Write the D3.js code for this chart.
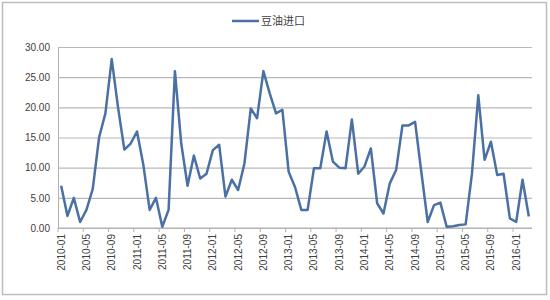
<!DOCTYPE html>
<html>
<head>
<meta charset="utf-8">
<script src="https://cdn.jsdelivr.net/npm/d3@7"></script>
<style>
  body { margin: 0; background: #fff; }
  text { font-family: "Liberation Sans", Arial, sans-serif; }
</style>
</head>
<body>
<div id="chart"></div>
<script>
// Series name
var seriesName = "豆油进口";

// Months 2010-01 .. 2016-03
var months = [];
for (var yr = 2010; yr <= 2016; yr++) {
    for (var m = 1; m <= 12; m++) {
        if (yr === 2016 && m > 3) break;
        months.push(yr + "-" + (m < 10 ? "0" + m : m));
    }
}

// Values
var values = [
    7, 2, 5, 1, 3, 6.5, 15, 19, 28, 20, 13, 14,
    16, 10.5, 3, 5, 0.2, 3, 26, 14, 7, 12, 8.2, 9,
    12.9, 13.8, 5.2, 8, 6.3, 10.7, 19.8, 18.2, 26, 22.3, 19, 19.6,
    9.3, 6.8, 3, 3, 9.9, 9.9, 16, 11, 10, 9.9, 18, 9,
    10.2, 13.2, 4.1, 2.4, 7.4, 9.6, 17, 17, 17.6, 9.2, 1, 3.8,
    4.2, 0.2, 0.3, 0.5, 0.6, 9, 22, 11.3, 14.3, 8.8, 9, 1.6,
    1, 8, 1.9
];

var yTicks = [0, 5, 10, 15, 20, 25, 30];

var svgWidth = 550;
var svgHeight = 300;

var margin = { top: 47, right: 18, bottom: 72, left: 58 };
var width = 532 - margin.left;
var height = 228 - margin.top;

var svg = d3.select("#chart")
    .append("svg")
    .attr("width", svgWidth)
    .attr("height", svgHeight);

// outer frame
svg.append("rect")
    .attr("x", 2.5).attr("y", 2.5)
    .attr("width", 544).attr("height", 292)
    .attr("fill", "#fff")
    .attr("stroke", "#bdbdbd")
    .attr("stroke-width", 1.5);

var chartGroup = svg.append("g")
    .attr("transform", `translate(${margin.left}, ${margin.top})`);

// Scales
var xScale = d3.scaleBand()
    .domain(months)
    .range([0, width])
    .padding(0);

var yScale = d3.scaleLinear()
    .domain([0, 30])
    .range([height, 0]);

// Gridlines + y labels
var leftAxis = d3.axisLeft(yScale)
    .tickValues(yTicks)
    .tickSize(-width)
    .tickPadding(8)
    .tickFormat(d3.format(".2f"));

var yAxisG = chartGroup.append("g").call(leftAxis);
yAxisG.select(".domain").attr("stroke", "#b0b0b0");
yAxisG.selectAll(".tick line").attr("stroke", "#b8b8b8").attr("stroke-width", 1.2);
yAxisG.selectAll(".tick text")
    .attr("fill", "#404040")
    .style("font-size", "10px");

// X axis line
chartGroup.append("line")
    .attr("x1", 0).attr("x2", width)
    .attr("y1", height).attr("y2", height)
    .attr("stroke", "#b0b0b0")
    .attr("stroke-width", 1.2);

// tick marks every 4 months, labels centered on category
var labelMonths = months.filter((d, i) => i % 4 === 0);

chartGroup.selectAll(".xtick")
    .data(labelMonths)
    .enter()
    .append("line")
    .attr("class", "xtick")
    .attr("x1", d => xScale(d))
    .attr("x2", d => xScale(d))
    .attr("y1", height)
    .attr("y2", height + 4)
    .attr("stroke", "#b0b0b0");

chartGroup.selectAll(".xlabel")
    .data(labelMonths)
    .enter()
    .append("text")
    .attr("class", "xlabel")
    .attr("transform", d => `translate(${xScale(d) + xScale.bandwidth() / 2 + 3.5}, ${height + 6}) rotate(-90)`)
    .attr("text-anchor", "end")
    .attr("fill", "#404040")
    .style("font-size", "10px")
    .text(d => d);

// Line
var line = d3.line()
    .x((d, i) => xScale(months[i]) + xScale.bandwidth() / 2)
    .y(d => yScale(d));

chartGroup.append("path")
    .datum(values)
    .attr("fill", "none")
    .attr("stroke", "#4a70a4")
    .attr("stroke-width", 2.5)
    .attr("stroke-linejoin", "round")
    .attr("d", line);

// Legend
var legend = svg.append("g").attr("transform", "translate(232, 21)");
legend.append("line")
    .attr("x1", 0).attr("x2", 27)
    .attr("y1", 0).attr("y2", 0)
    .attr("stroke", "#4a70a4")
    .attr("stroke-width", 2.5);
legend.append("text")
    .attr("x", 29)
    .attr("y", 4)
    .attr("fill", "#404040")
    .style("font-family", "'Noto Sans CJK SC', sans-serif")
    .style("font-size", "11px")
    .text(seriesName);
</script>
</body>
</html>
